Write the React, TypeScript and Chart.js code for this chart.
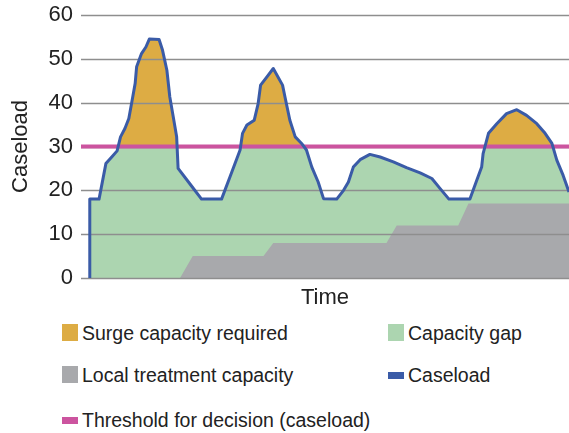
import React, { useEffect, useRef } from 'react';
import { Chart, registerables } from 'chart.js';

Chart.register(...registerables);

// Time axis (arbitrary units, 0..100) and caseload values
const caseloadTime = [
  1.8, 1.8, 3.7, 5.1, 6.3, 7.4, 8.1, 9.0, 9.8, 10.6, 11.1, 11.4, 12.4, 13.3, 14.0,
  16.0, 16.7, 17.6, 18.2, 18.9, 19.6, 19.9, 22.3, 24.7, 28.8, 30.5, 32.6, 33.1, 34.0,
  35.5, 36.3, 36.8, 38.1, 39.4, 41.3, 41.8, 42.8, 43.9, 45.2, 46.2, 47.3, 48.6, 49.7,
  52.4, 53.8, 54.8, 55.8, 57.2, 59.2, 61.3, 64.0, 66.7, 69.5, 71.9, 73.6, 75.4, 79.7,
  81.1, 82.1, 82.4, 83.5, 85.2, 87.2, 89.3, 91.3, 93.4, 95.1, 96.5, 97.5, 98.8, 100,
];
const caseloadValues = [
  0, 18, 18, 26.1, 27.6, 29, 32.2, 34.1, 36.4, 41.3, 44.4, 48.2, 51.2, 52.7, 54.5,
  54.4, 52, 47.4, 41.3, 36.8, 32.2, 25, 21.5, 18, 18, 23, 29.2, 33, 34.9,
  36, 39.8, 44, 45.9, 47.8, 44, 41.3, 36, 32.2, 30.7, 29.2, 25.3, 21.9, 18.1,
  18, 20, 21.9, 25.3, 27, 28.2, 27.6, 26.5, 25.2, 24, 22.7, 20.4, 18, 18,
  22.3, 25.3, 28.4, 33, 35.2, 37.5, 38.4, 37.1, 35.2, 33, 30.7, 26.9, 23.4, 19.6,
];

// Local treatment capacity (stepped)
const localTime = [20.3, 22.9, 37.4, 39.4, 62.6, 64.7, 77.3, 79.4, 100];
const localCapacity = [0, 5, 5, 8, 8, 12, 12, 17, 17];

// Threshold for decision
const thresholdTime = [0, 100];
const thresholdValue = 30;

// Y axis ticks
const yMin = 0;
const yMax = 60;
const yStep = 10;

const legendItems = [
  { label: 'Surge capacity required', color: '#ddac44', kind: 'box' },
  { label: 'Capacity gap', color: '#acd5b0', kind: 'box' },
  { label: 'Local treatment capacity', color: '#a8a9ac', kind: 'box' },
  { label: 'Caseload', color: '#3a5ba7', kind: 'line' },
  { label: 'Threshold for decision (caseload)', color: '#cc549f', kind: 'line' },
];

const FONT = "'Liberation Sans', Arial, sans-serif";
const TEXT = '#222222';

const zip = (xs: number[], ys: number[]) => xs.map((x, i) => ({ x, y: ys[i] }));

const gridPlugin = {
  id: 'gridOverFills',
  beforeDatasetDraw(chart: any, args: any) {
    if (args.index !== 1) return;
    const { ctx, chartArea, scales } = chart;
    ctx.save();
    ctx.strokeStyle = '#8e8e8e';
    ctx.lineWidth = 1.4;
    for (let v = yMin; v <= yMax; v += yStep) {
      const y = Math.round(scales.y.getPixelForValue(v)) + 0.5;
      ctx.beginPath();
      ctx.moveTo(chartArea.left, y);
      ctx.lineTo(chartArea.right, y);
      ctx.stroke();
    }
    ctx.restore();
  },
};

export default function App() {
  const canvasRef = useRef<HTMLCanvasElement | null>(null);

  useEffect(() => {
    if (!canvasRef.current) return;
    const caseload = zip(caseloadTime, caseloadValues);
    const chart = new Chart(canvasRef.current, {
      type: 'line',
      data: {
        datasets: [
          {
            label: 'Caseload',
            data: caseload,
            borderColor: '#3a5ba7',
            borderWidth: 3,
            pointRadius: 0,
            fill: false,
            tension: 0,
            borderJoinStyle: 'round',
            order: 0,
          },
          {
            label: 'Threshold for decision (caseload)',
            data: thresholdTime.map((x) => ({ x, y: thresholdValue })),
            borderColor: '#cc549f',
            borderWidth: 4,
            pointRadius: 0,
            fill: false,
            order: 1,
          },
          {
            label: 'Local treatment capacity',
            data: zip(localTime, localCapacity),
            borderWidth: 0,
            borderColor: 'rgba(0,0,0,0)',
            backgroundColor: '#a8a9ac',
            pointRadius: 0,
            fill: 'origin',
            order: 2,
          },
          {
            label: 'Surge capacity required',
            data: caseload,
            borderWidth: 0,
            borderColor: 'rgba(0,0,0,0)',
            pointRadius: 0,
            fill: { target: { value: thresholdValue }, above: '#ddac44', below: 'rgba(0,0,0,0)' },
            order: 3,
          },
          {
            label: 'Capacity gap',
            data: caseload,
            borderWidth: 0,
            borderColor: 'rgba(0,0,0,0)',
            backgroundColor: '#acd5b0',
            pointRadius: 0,
            fill: 'origin',
            order: 4,
          },
        ],
      },
      options: {
        animation: false,
        responsive: false,
        maintainAspectRatio: false,
        layout: { padding: { top: 15, left: 0, right: 0, bottom: 0 } },
        plugins: { legend: { display: false }, tooltip: { enabled: false } },
        scales: {
          x: {
            type: 'linear',
            min: 0,
            max: 100,
            ticks: { display: false },
            grid: { display: false },
            border: { display: false },
            title: {
              display: true,
              text: 'Time',
              color: TEXT,
              font: { family: FONT, size: 22 },
              padding: { top: 0, bottom: 1 },
            },
            afterFit: (s: any) => {
              s.height = 34;
              s.paddingLeft = 0;
              s.paddingRight = 0;
            },
          },
          y: {
            min: yMin,
            max: yMax,
            ticks: {
              stepSize: yStep,
              color: TEXT,
              padding: 8,
              font: { family: FONT, size: 22 },
            },
            grid: { display: false, drawTicks: false },
            border: { display: false },
            title: {
              display: true,
              text: 'Caseload',
              color: TEXT,
              font: { family: FONT, size: 22 },
              padding: { top: 8, bottom: 0 },
            },
            afterFit: (s: any) => {
              s.width = 81;
              s.paddingTop = 0;
              s.paddingBottom = 0;
            },
          },
        },
      },
      plugins: [gridPlugin],
    });
    return () => chart.destroy();
  }, []);

  const rowTop = [333, 375, 420];
  const colLeft = [62, 388];
  const positions = [
    [0, 0],
    [1, 0],
    [0, 1],
    [1, 1],
    [0, 2],
  ];

  return (
    <div
      style={{
        position: 'fixed',
        left: 0,
        top: 0,
        width: 569,
        height: 433,
        background: '#fff',
        overflow: 'hidden',
      }}
    >
      <canvas ref={canvasRef} width={569} height={312} style={{ display: 'block', width: 569, height: 312 }} />
      {legendItems.map((item, i) => {
        const [c, r] = positions[i];
        const cy = rowTop[r];
        const left = colLeft[c];
        return (
          <div key={item.label}>
            <div
              style={{
                position: 'absolute',
                left,
                top: item.kind === 'box' ? cy - 9 : cy - 3,
                width: 16,
                height: item.kind === 'box' ? 17 : 7,
                background: item.color,
              }}
            />
            <div
              style={{
                position: 'absolute',
                left: left + 20,
                top: cy - 12,
                height: 24,
                lineHeight: '24px',
                fontFamily: FONT,
                fontSize: 19.5,
                color: TEXT,
                whiteSpace: 'nowrap',
              }}
            >
              {item.label}
            </div>
          </div>
        );
      })}
    </div>
  );
}
